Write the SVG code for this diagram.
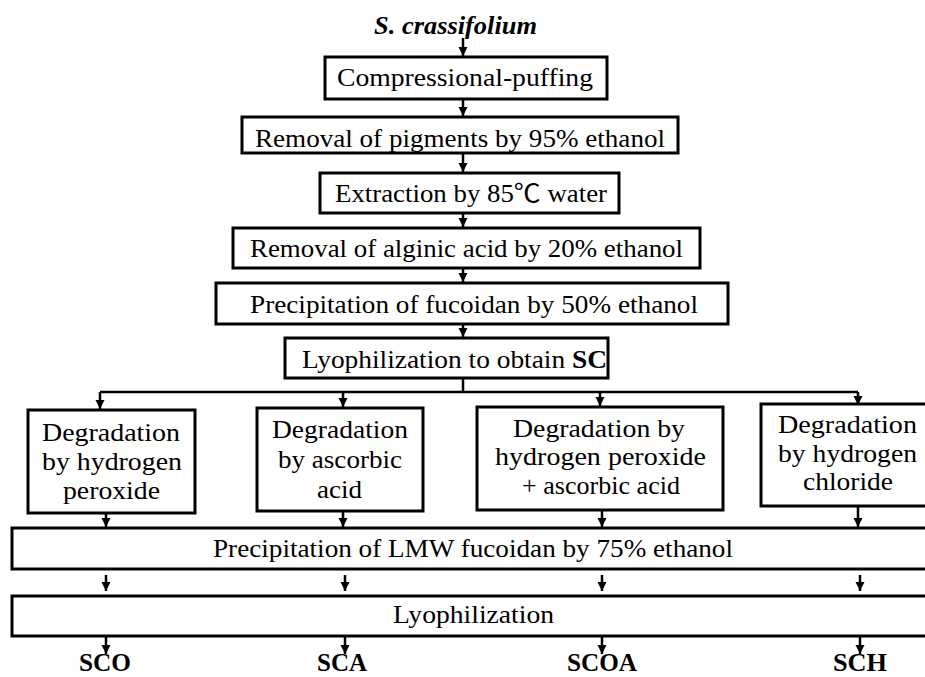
<svg xmlns="http://www.w3.org/2000/svg" width="925" height="677" viewBox="0 0 925 677">
<style>
.box{fill:#fff;stroke:#000;stroke-width:3}
.t{font-family:"Liberation Serif","Noto Sans CJK SC",serif;font-size:25px;fill:#000;text-anchor:middle}
.b{font-weight:bold}
.c{stroke:#000;stroke-width:2.5;fill:none}
.a{stroke:#000;stroke-width:2.5;fill:none;marker-end:url(#ah)}
</style>
<defs>
<marker id="ah" markerUnits="userSpaceOnUse" markerWidth="10" markerHeight="10" refX="9" refY="4.5" orient="auto">
<path d="M0,0 L9,4.5 L0,9 z" fill="#000"/>
</marker>
</defs>
<rect width="925" height="677" fill="#fff"/>

<g id="connectors">
<line class="a" x1="463" y1="38" x2="463" y2="56"/>
<line class="a" x1="463" y1="99" x2="463" y2="116"/>
<line class="a" x1="463" y1="153" x2="463" y2="172"/>
<line class="a" x1="463" y1="213" x2="463" y2="227"/>
<line class="a" x1="463" y1="268" x2="463" y2="282"/>
<line class="a" x1="463" y1="324" x2="463" y2="337"/>
<line class="c" x1="463" y1="378" x2="463" y2="392"/>
<line class="c" x1="100" y1="392" x2="858" y2="392"/>
<line class="a" x1="100" y1="392" x2="100" y2="409"/>
<line class="a" x1="343" y1="392" x2="343" y2="407"/>
<line class="a" x1="600" y1="392" x2="600" y2="406"/>
<line class="a" x1="858" y1="392" x2="858" y2="405"/>
<line class="a" x1="106" y1="513" x2="106" y2="527"/>
<line class="a" x1="343" y1="511" x2="343" y2="527"/>
<line class="a" x1="602" y1="510" x2="602" y2="527"/>
<line class="a" x1="858" y1="506" x2="858" y2="527"/>
<line class="a" x1="106" y1="575" x2="106" y2="591"/>
<line class="a" x1="345" y1="575" x2="345" y2="591"/>
<line class="a" x1="602" y1="575" x2="602" y2="591"/>
<line class="a" x1="860" y1="575" x2="860" y2="591"/>
<line class="a" x1="106" y1="636" x2="106" y2="654"/>
<line class="a" x1="345" y1="636" x2="345" y2="654"/>
<line class="a" x1="602" y1="636" x2="602" y2="654"/>
<line class="a" x1="860" y1="636" x2="860" y2="654"/>
</g>

<g id="source">
<text class="t b" x="455.5" y="34" font-style="italic" textLength="163" lengthAdjust="spacingAndGlyphs">S. crassifolium</text>
</g>

<g id="n1">
<rect class="box" x="325" y="57" width="282" height="42"/>
<text class="t" x="465" y="86" textLength="256" lengthAdjust="spacingAndGlyphs">Compressional-puffing</text>
</g>
<g id="n2">
<rect class="box" x="242" y="117" width="436" height="36"/>
<text class="t" x="460" y="147" textLength="410" lengthAdjust="spacingAndGlyphs">Removal of pigments by 95% ethanol</text>
</g>
<g id="n3">
<rect class="box" x="320" y="173" width="299" height="40"/>
<text class="t" x="471" y="202" textLength="272" lengthAdjust="spacingAndGlyphs">Extraction by 85℃ water</text>
</g>
<g id="n4">
<rect class="box" x="233" y="228" width="467" height="40"/>
<text class="t" x="466.5" y="257" textLength="433" lengthAdjust="spacingAndGlyphs">Removal of alginic acid by 20% ethanol</text>
</g>
<g id="n5">
<rect class="box" x="216" y="283" width="512" height="41"/>
<text class="t" x="474" y="313" textLength="448" lengthAdjust="spacingAndGlyphs">Precipitation of fucoidan by 50% ethanol</text>
</g>
<g id="n6">
<rect class="box" x="285" y="338" width="323" height="40"/>
<text class="t" x="454.5" y="368" textLength="305" lengthAdjust="spacingAndGlyphs">Lyophilization to obtain <tspan class="b">SC</tspan></text>
</g>

<g id="nA">
<rect class="box" x="28" y="410" width="167" height="103"/>
<text class="t" x="111" y="441" textLength="138" lengthAdjust="spacingAndGlyphs">Degradation</text>
<text class="t" x="112" y="470" textLength="140" lengthAdjust="spacingAndGlyphs">by hydrogen</text>
<text class="t" x="111.5" y="499" textLength="97" lengthAdjust="spacingAndGlyphs">peroxide</text>
</g>
<g id="nB">
<rect class="box" x="257" y="408" width="166" height="103"/>
<text class="t" x="340" y="438" textLength="136" lengthAdjust="spacingAndGlyphs">Degradation</text>
<text class="t" x="340" y="468" textLength="124" lengthAdjust="spacingAndGlyphs">by ascorbic</text>
<text class="t" x="339.5" y="498" textLength="45" lengthAdjust="spacingAndGlyphs">acid</text>
</g>
<g id="nC">
<rect class="box" x="477" y="407" width="246" height="103"/>
<text class="t" x="599" y="437" textLength="172" lengthAdjust="spacingAndGlyphs">Degradation by</text>
<text class="t" x="600.5" y="465" textLength="211" lengthAdjust="spacingAndGlyphs">hydrogen peroxide</text>
<text class="t" x="601" y="494" textLength="158" lengthAdjust="spacingAndGlyphs">+ ascorbic acid</text>
</g>
<g id="nD">
<rect class="box" x="761" y="404" width="175" height="102"/>
<text class="t" x="847.5" y="433" textLength="139" lengthAdjust="spacingAndGlyphs">Degradation</text>
<text class="t" x="847.5" y="462" textLength="139" lengthAdjust="spacingAndGlyphs">by hydrogen</text>
<text class="t" x="848" y="490" textLength="90" lengthAdjust="spacingAndGlyphs">chloride</text>
</g>

<g id="nLMW">
<rect class="box" x="12" y="528" width="924" height="41"/>
<text class="t" x="473" y="557" textLength="520" lengthAdjust="spacingAndGlyphs">Precipitation of LMW fucoidan by 75% ethanol</text>
</g>
<g id="nLyo">
<rect class="box" x="12" y="596" width="924" height="40"/>
<text class="t" x="473.5" y="623" textLength="161" lengthAdjust="spacingAndGlyphs">Lyophilization</text>
</g>

<g id="products">
<text class="t b" x="105" y="671" font-size="24" textLength="52" lengthAdjust="spacingAndGlyphs">SCO</text>
<text class="t b" x="342" y="671" font-size="24" textLength="50" lengthAdjust="spacingAndGlyphs">SCA</text>
<text class="t b" x="602" y="671" font-size="24" textLength="70" lengthAdjust="spacingAndGlyphs">SCOA</text>
<text class="t b" x="860" y="671" font-size="24" textLength="54" lengthAdjust="spacingAndGlyphs">SCH</text>
</g>
</svg>
